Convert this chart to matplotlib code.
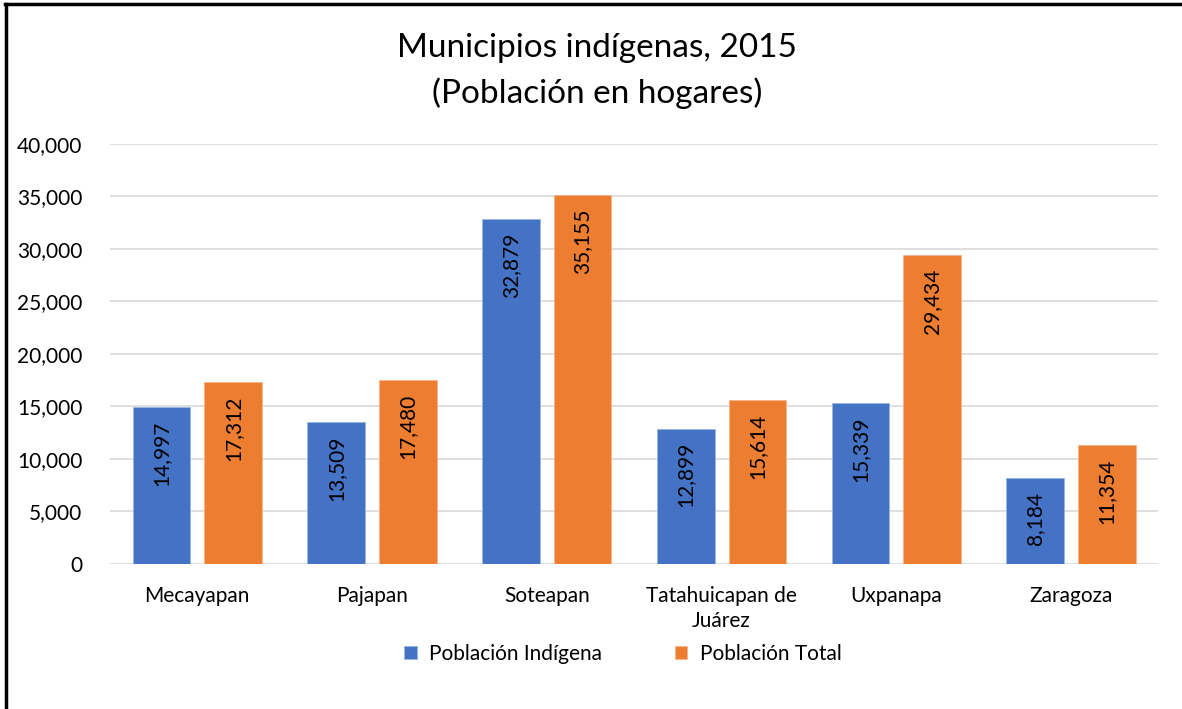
import matplotlib.pyplot as plt
from matplotlib.ticker import FuncFormatter, MultipleLocator
from matplotlib.lines import Line2D
import numpy as np

plt.rcParams['font.family'] = ['Lato', 'DejaVu Sans']

municipios = ['Mecayapan', 'Pajapan', 'Soteapan', 'Tatahuicapan de\nJuárez', 'Uxpanapa', 'Zaragoza']
indigena = [14997, 13509, 32879, 12899, 15339, 8184]
total = [17312, 17480, 35155, 15614, 29434, 11354]

azul = '#4472C4'
naranja = '#ED7D31'

fig = plt.figure(figsize=(11.82, 7.09), dpi=100)
ax = fig.add_axes([0.093, 0.2045, 0.887, 0.5925])

x = np.arange(len(municipios))
w = 0.33
b1 = ax.bar(x - 0.205, indigena, w, color=azul, edgecolor='#9bb5e3', linewidth=0.6,
            label='Población Indígena', zorder=3)
b2 = ax.bar(x + 0.205, total, w, color=naranja, edgecolor='#f5b48a', linewidth=0.6,
            label='Población Total', zorder=3)

for bars in (b1, b2):
    for r in bars:
        ax.text(r.get_x() + r.get_width() / 2, r.get_height() - 1300, f'{int(r.get_height()):,}',
                rotation=90, ha='center', va='top', fontsize=15, color='black', zorder=4)

ax.set_xlim(-0.5, 5.5)
ax.set_ylim(0, 40000)
ax.yaxis.set_major_locator(MultipleLocator(5000))
ax.yaxis.set_major_formatter(FuncFormatter(lambda v, p: f'{int(v):,}'))
ax.grid(axis='y', color='#d9d9d9', linewidth=1.2, zorder=0)
for s in ax.spines.values():
    s.set_visible(False)
ax.tick_params(axis='both', length=0, labelsize=15, colors='black')
ax.tick_params(axis='y', pad=20)
ax.tick_params(axis='x', pad=16)
ax.set_xticks(x)
ax.set_xticklabels(municipios, linespacing=1.3)

fig.text(0.505, 0.9, 'Municipios indígenas, 2015\n(Población en hogares)', ha='center', va='center',
         fontsize=24, linespacing=1.55)

leg = fig.legend(handles=[b1, b2], loc='center', bbox_to_anchor=(0.527, 0.078), ncol=2, frameon=False,
                 fontsize=15, handlelength=0.6, handleheight=0.6, columnspacing=3.5, handletextpad=0.6)

fig.add_artist(Line2D([0.005, 0.005], [0, 0.995], transform=fig.transFigure, color='black', linewidth=2.5))
fig.add_artist(Line2D([0.004, 1], [0.995, 0.995], transform=fig.transFigure, color='black', linewidth=2.5))

fig.savefig('out.png', dpi=100)
